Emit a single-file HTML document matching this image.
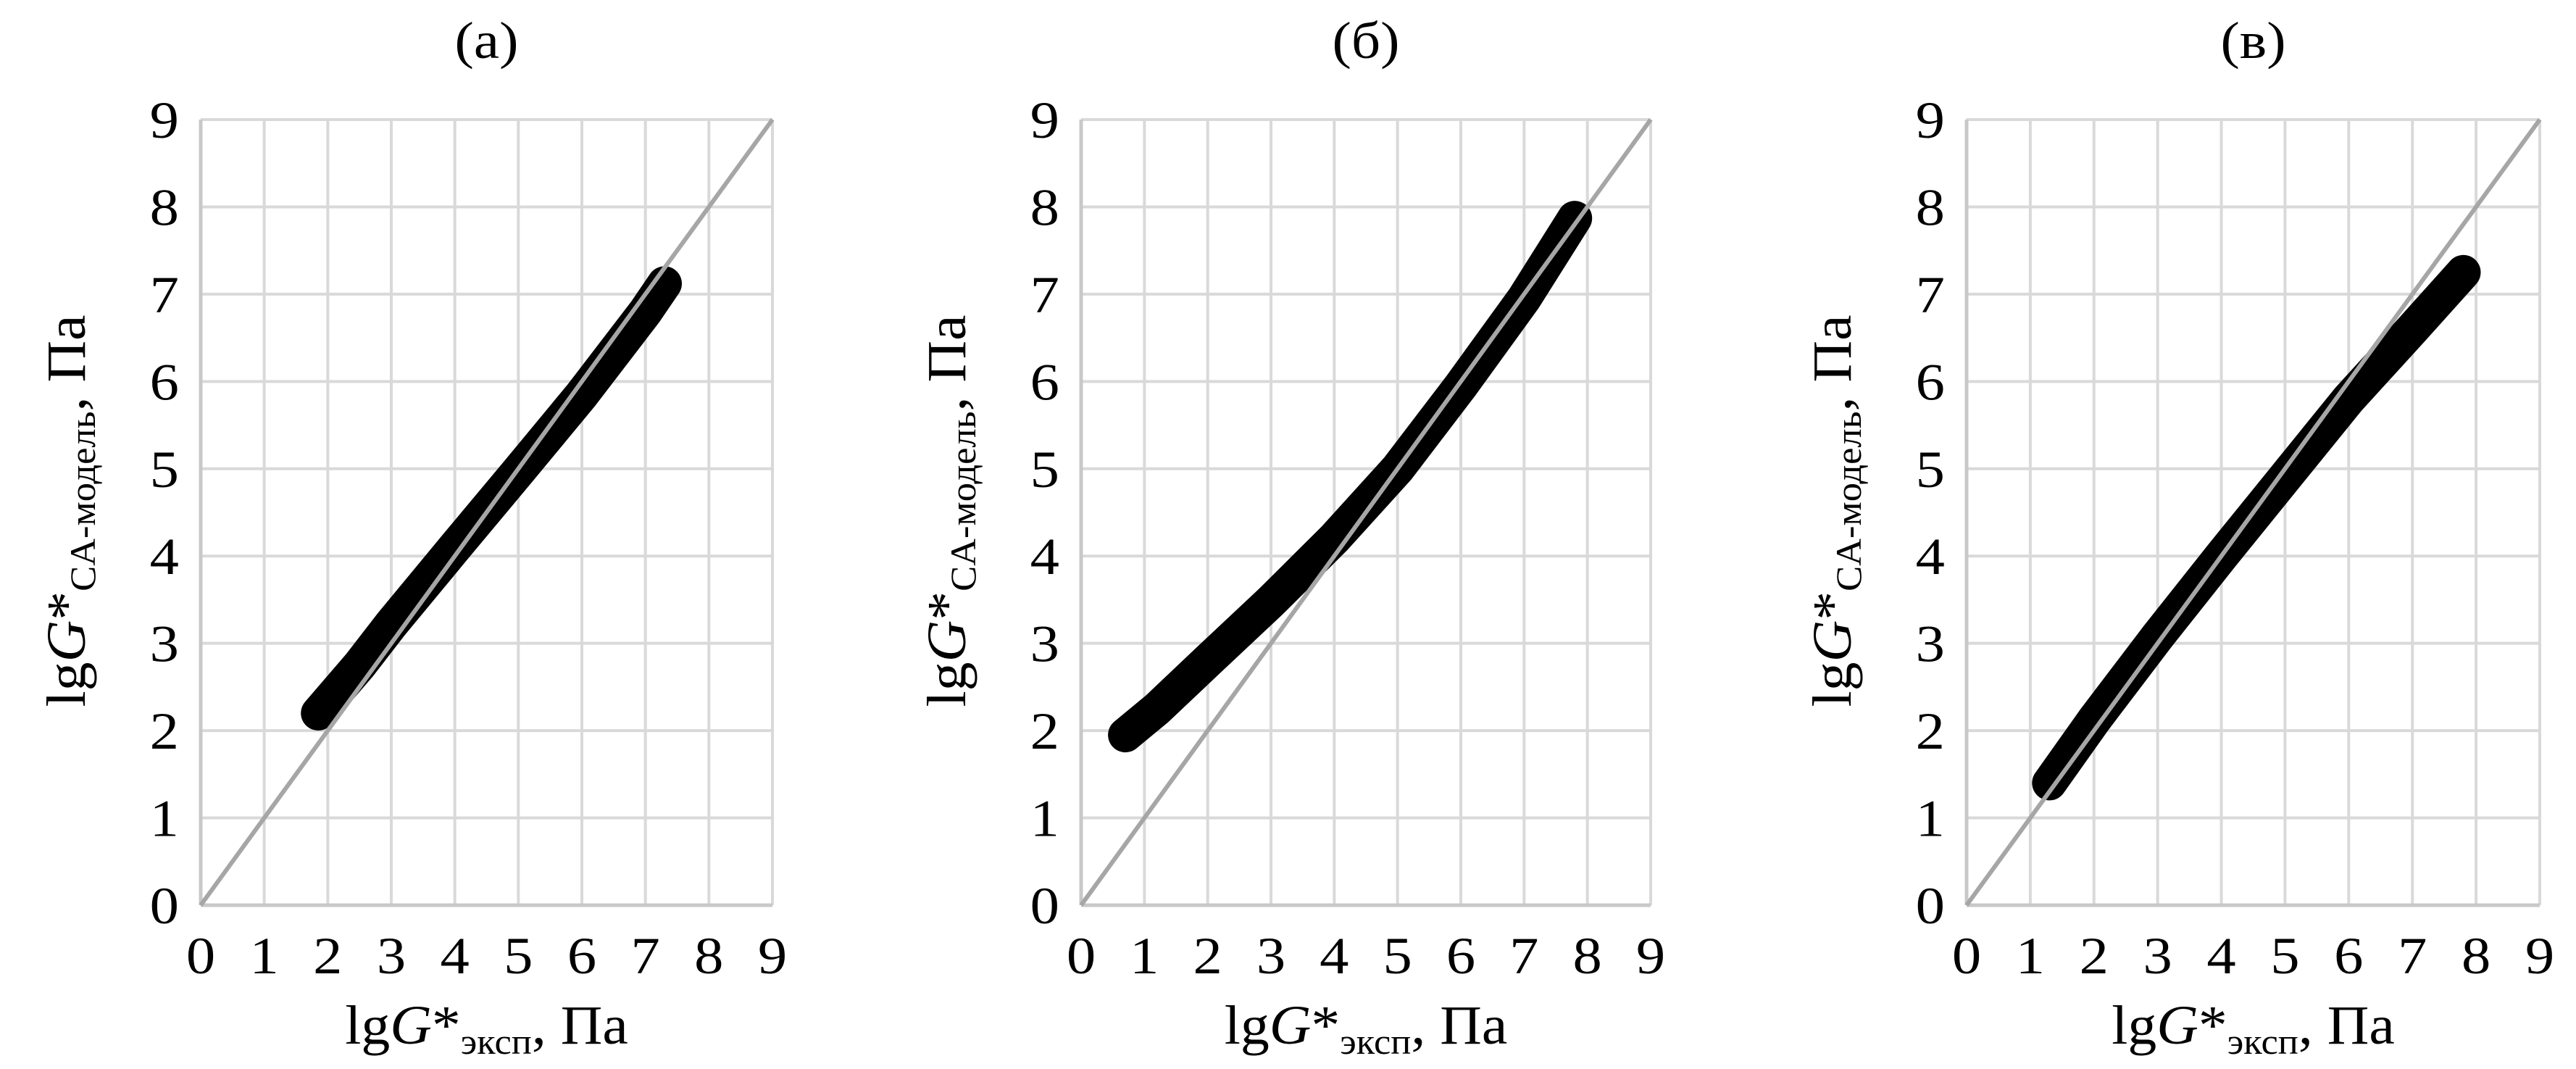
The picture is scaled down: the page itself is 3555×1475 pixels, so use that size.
<!DOCTYPE html>
<html><head><meta charset="utf-8">
<style>
html,body{margin:0;padding:0;background:#fff;}
svg{display:block;}
text{font-family:"Liberation Serif",serif;fill:#000;}
</style></head>
<body>
<svg id="s" width="3555" height="1475" viewBox="0 0 3555 1475" xmlns="http://www.w3.org/2000/svg"></svg>
<script>
const s=document.getElementById('s');
let h='';
const charts=[
 {L:277,R:1066,title:'(a)',pts:[[1.85,2.2],[2.5,2.75],[3,3.22],[4,4.1],[5,4.97],[6,5.85],[7,6.8],[7.3,7.12]]},
 {L:1492,R:2278,title:'(б)',pts:[[0.7,1.95],[1.2,2.25],[2,2.8],[3,3.48],[4,4.2],[5,5.0],[6,5.95],[7,6.95],[7.8,7.87]]},
 {L:2714,R:3505,title:'(в)',pts:[[1.3,1.4],[2,2.12],[3,3.08],[4,4.0],[5,4.9],[6,5.8],[7,6.6],[7.8,7.25]]}
];
const T=165,B=1249;
charts.forEach(c=>{
 const W=c.R-c.L,H=B-T;
 const X=v=>c.L+v*W/9, Y=v=>B-v*H/9;
 const cx=(c.L+c.R)/2;
 for(let i=0;i<=9;i++){
  h+=`<line x1="${X(i)}" y1="${T}" x2="${X(i)}" y2="${B}" stroke="#d9d9d9" stroke-width="4"/>`;
  h+=`<line x1="${c.L}" y1="${Y(i)}" x2="${c.R}" y2="${Y(i)}" stroke="#d9d9d9" stroke-width="4"/>`;
 }
 h+=`<line x1="${c.L}" y1="${B}" x2="${c.R}" y2="${B}" stroke="#c8c8c8" stroke-width="5"/>`;
 h+=`<line x1="${c.L}" y1="${T}" x2="${c.L}" y2="${B}" stroke="#c8c8c8" stroke-width="5"/>`;
 const d=c.pts.map((p,i)=>(i?'L':'M')+X(p[0]).toFixed(1)+' '+Y(p[1]).toFixed(1)).join(' ');
 h+=`<path d="${d}" fill="none" stroke="#000" stroke-width="48" stroke-linecap="round" stroke-linejoin="round"/>`;
 h+=`<line x1="${X(0)}" y1="${Y(0)}" x2="${X(9)}" y2="${Y(9)}" stroke="#a6a6a6" stroke-width="6"/>`;
 for(let i=0;i<=9;i++){
  h+=`<text x="0" y="0" font-size="72" text-anchor="middle" transform="translate(${X(i)},${B+94}) scale(1.12,1)">${i}</text>`;
  h+=`<text x="0" y="0" font-size="72" text-anchor="end" transform="translate(${c.L-30},${Y(i)+25}) scale(1.12,1)">${i}</text>`;
 }
 h+=`<text x="0" y="0" font-size="72" text-anchor="middle" transform="translate(${cx},80) scale(1.1,1)">${c.title}</text>`;
 h+=`<text x="0" y="0" font-size="76" text-anchor="middle" transform="translate(${cx},1440) scale(1.05,1)">lg<tspan font-style="italic">G</tspan>*<tspan font-size="50" dy="14">эксп</tspan><tspan dy="-14">,  Па</tspan></text>`;
 h+=`<text x="0" y="0" font-size="76" text-anchor="middle" transform="translate(${c.L-160},705) rotate(-90) scale(1.05,1)">lg<tspan font-style="italic">G</tspan>*<tspan font-size="50" dy="14">CA-модель</tspan><tspan dy="-14">,  Па</tspan></text>`;
});
s.innerHTML=h;
</script>
</body></html>
